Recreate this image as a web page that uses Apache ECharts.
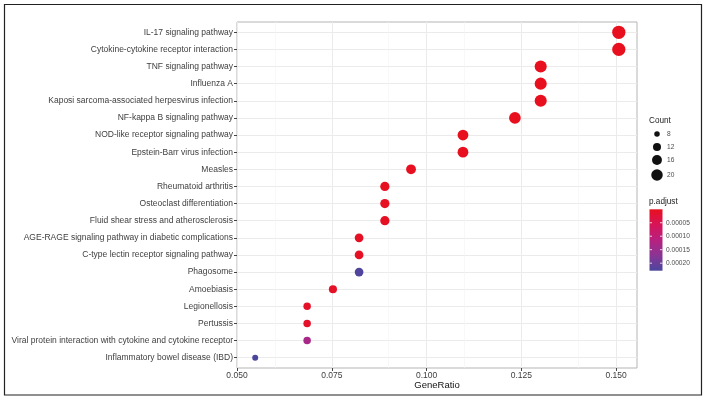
<!DOCTYPE html>
<html>
<head>
<meta charset="utf-8">
<script src="https://cdn.jsdelivr.net/npm/echarts@6/dist/echarts.min.js"></script>
<style>html,body{margin:0;padding:0;background:#fff}#c{width:706px;height:400px}</style>
</head>
<body>
<div id="c"></div>
<script>
const categories = [
  'IL-17 signaling pathway',
  'Cytokine-cytokine receptor interaction',
  'TNF signaling pathway',
  'Influenza A',
  'Kaposi sarcoma-associated herpesvirus infection',
  'NF-kappa B signaling pathway',
  'NOD-like receptor signaling pathway',
  'Epstein-Barr virus infection',
  'Measles',
  'Rheumatoid arthritis',
  'Osteoclast differentiation',
  'Fluid shear stress and atherosclerosis',
  'AGE-RAGE signaling pathway in diabetic complications',
  'C-type lectin receptor signaling pathway',
  'Phagosome',
  'Amoebiasis',
  'Legionellosis',
  'Pertussis',
  'Viral protein interaction with cytokine and cytokine receptor',
  'Inflammatory bowel disease (IBD)'
];
const geneRatio = [0.1507,0.1507,0.1301,0.1301,0.1301,0.1233,0.1096,0.1096,0.0959,0.0890,0.0890,0.0890,0.0822,0.0822,0.0822,0.0753,0.0685,0.0685,0.0685,0.0548];
const counts = [22,22,19,19,19,18,16,16,14,13,13,13,12,12,12,11,10,10,10,8];
const pAdjust = [1.2e-9,3.5e-9,2.0e-8,4.0e-8,6.0e-8,1.0e-7,5.0e-7,8.0e-7,1.5e-6,3.0e-6,4.0e-6,5.0e-6,6.0e-6,7.0e-6,2.22e-4,9.0e-6,1.1e-5,1.3e-5,1.35e-4,2.28e-4];
const xTicks = [0.050,0.075,0.100,0.125,0.150];
const xMinorTicks = [0.0625,0.0875,0.1125,0.1375];
const countBreaks = [8,12,16,20];
const pBreaks = [0.00005,0.00010,0.00015,0.00020];

const FONT = 'Liberation Sans, Arial, sans-serif';
const colorStops = ['#E8101E','#D61458','#B8207F','#8A3594','#4A469E'];
const cMin = Math.min(...counts), cMax = Math.max(...counts);
const pMin = Math.min(...pAdjust), pMax = Math.max(...pAdjust);
const D_MIN = 6, D_MAX = 13.3;
function sizeOf(c){
  const t = (c - cMin) / (cMax - cMin);
  return Math.sqrt(D_MIN*D_MIN + t*(D_MAX*D_MAX - D_MIN*D_MIN));
}

const idx = categories.map((_, i) => i);
const data = categories.map((_, i) => [geneRatio[i], i, pAdjust[i], counts[i]]);

const gridLineMinor = {color:'#f3f3f3', width:0.6, type:'solid'};
const markData = xMinorTicks.map(v => ({xAxis: v, lineStyle: gridLineMinor}));

// legend graphics
const graphics = [];
graphics.push({type:'rect', shape:{x:4.5,y:4.5,width:697,height:390.5}, style:{fill:'none', stroke:'#222', lineWidth:1.2}, silent:true});
graphics.push({type:'text', x:649, y:121, style:{text:'Count', font:'8.2px '+FONT, fill:'#222', verticalAlign:'middle'}});
const countY = [134, 147, 160, 175];
countBreaks.forEach((c, k) => {
  graphics.push({type:'circle', shape:{cx:657, cy:countY[k], r:sizeOf(c)*0.92/2}, style:{fill:'#111'}});
  graphics.push({type:'text', x:667, y:countY[k], style:{text:String(c), font:'6.6px '+FONT, fill:'#4d4d4d', verticalAlign:'middle'}});
});
graphics.push({type:'text', x:649, y:202, style:{text:'p.adjust', font:'8.2px '+FONT, fill:'#222', verticalAlign:'middle'}});
const barX = 649.5, barY = 209.3, barW = 13, barH = 61.4;
graphics.push({type:'rect', shape:{x:barX, y:barY, width:barW, height:barH}, style:{
  fill: new echarts.graphic.LinearGradient(0,0,0,1, colorStops.map((c,k)=>({offset:k/(colorStops.length-1), color:c})))
}});
pBreaks.forEach(v => {
  const y = barY + (v - pMin) / (pMax - pMin) * barH;
  graphics.push({type:'line', shape:{x1:barX, y1:y, x2:barX+2.5, y2:y}, style:{stroke:'#fff', lineWidth:0.8}});
  graphics.push({type:'line', shape:{x1:barX+barW-2.5, y1:y, x2:barX+barW, y2:y}, style:{stroke:'#fff', lineWidth:0.8}});
  graphics.push({type:'text', x:666, y:y, style:{text:v.toFixed(5), font:'6.6px '+FONT, fill:'#4d4d4d', verticalAlign:'middle'}});
});

const chart = echarts.init(document.getElementById('c'), null, {renderer:'canvas'});
chart.setOption({
  animation:false,
  backgroundColor:'#fff',
  grid:{left:237, top:22, width:400, height:346, show:true, borderColor:'#b5b5b5', borderWidth:1, backgroundColor:'#fff'},
  xAxis:{
    type:'value', min:0.05, max:0.1555, position:'bottom',
    name:'GeneRatio', nameLocation:'middle', nameGap:17, nameMoveOverlap:false,
    nameTextStyle:{fontFamily:FONT, fontSize:9.5, color:'#111', verticalAlign:'middle'},
    axisLine:{show:false, onZero:false},
    splitLine:{show:true, lineStyle:{color:'#ebebeb', width:1}},
    axisTick:{show:true, customValues:xTicks, length:3, lineStyle:{color:'#444'}},
    axisLabel:{customValues:xTicks, formatter:v=>v.toFixed(3), fontFamily:FONT, fontSize:8.5, color:'#404040', margin:3}
  },
  yAxis:{
    type:'value', min:-0.6, max:19.6, inverse:true, position:'left',
    axisLine:{show:false, onZero:false},
    splitLine:{show:true, lineStyle:{color:'#ebebeb', width:1}},
    axisTick:{show:true, customValues:idx, length:3, lineStyle:{color:'#444'}},
    axisLabel:{customValues:idx, formatter:v=>categories[Math.round(v)], fontFamily:FONT, fontSize:8.5, color:'#404040', margin:4}
  },
  visualMap:{
    show:false, type:'continuous', min:pMin, max:pMax, dimension:2, seriesIndex:1,
    inRange:{color:colorStops}
  },
  series:[
    {type:'scatter', data:[], silent:true, z:1,
     markLine:{silent:true, symbol:['none','none'], label:{show:false}, animation:false, data:markData}},
    {type:'scatter', z:5, data:data, symbolSize:d=>sizeOf(d[3]), itemStyle:{opacity:1}}
  ],
  graphic:graphics
});
</script>
</body>
</html>
